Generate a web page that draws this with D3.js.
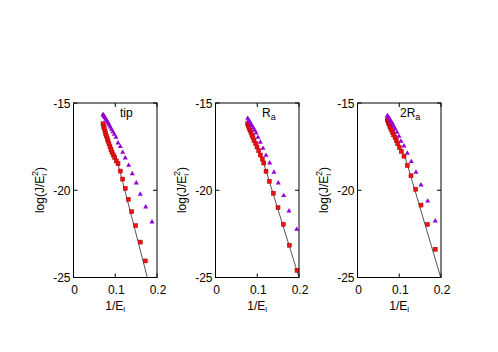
<!DOCTYPE html>
<html>
<head>
<meta charset="utf-8">
<script src="https://cdn.jsdelivr.net/npm/d3@7"></script>
<style>
  html, body { margin: 0; padding: 0; background: #fff; }
  svg { display: block; font-family: "Liberation Sans", Arial, sans-serif; }
</style>
</head>
<body>
<div id="chart"></div>
<script>
// ---------- data ----------
const panelNames = ["tip", "Ra", "2Ra"];

const tipSqX = [0.0707,0.0723,0.0738,0.0755,0.0771,0.0786,0.0810,0.0826,0.0850,0.0874,0.0898,0.0922,0.0953,0.0987,0.1025,0.1066,0.1121,0.1178,0.1240,0.1312,0.1394,0.1490,0.1600,0.1720];
const tipSqY = [-16.19,-16.34,-16.47,-16.62,-16.76,-16.89,-17.05,-17.18,-17.34,-17.51,-17.68,-17.83,-17.98,-18.11,-18.32,-18.48,-18.90,-19.36,-19.89,-20.52,-21.23,-22.03,-22.97,-24.05];
const tipTrX = [0.0707,0.0723,0.0738,0.0755,0.0771,0.0790,0.0810,0.0831,0.0855,0.0881,0.0910,0.0941,0.0977,0.1018,0.1066,0.1121,0.1178,0.1240,0.1322,0.1407,0.1504,0.1600,0.1729,0.1880];
const tipTrY = [-15.66,-15.72,-15.77,-15.84,-15.92,-15.99,-16.07,-16.16,-16.26,-16.38,-16.51,-16.65,-16.80,-16.97,-17.29,-17.50,-17.83,-18.15,-18.57,-19.05,-19.58,-20.23,-20.96,-21.82];
const tipFitX = [0.0707, 0.1042, 0.1768];
const tipFitY = [-16.19, -18.27, -25.0];

const raSqX = [0.0771,0.0786,0.0802,0.0826,0.0850,0.0874,0.0898,0.0922,0.0963,0.0994,0.1035,0.1073,0.1121,0.1157,0.1210,0.1289,0.1384,0.1497,0.1624,0.1768,0.1952];
const raSqY = [-16.19,-16.30,-16.43,-16.56,-16.70,-16.85,-16.99,-17.14,-17.31,-17.52,-17.73,-17.98,-18.21,-18.44,-18.91,-19.49,-20.17,-21.00,-21.95,-23.15,-24.59];
const raTrX = [0.0771,0.0795,0.0819,0.0843,0.0874,0.0905,0.0939,0.0970,0.1018,0.1073,0.1138,0.1210,0.1298,0.1401,0.1504,0.1634,0.1760,0.1945];
const raTrY = [-15.88,-15.97,-16.07,-16.19,-16.30,-16.43,-16.56,-16.72,-16.97,-17.25,-17.60,-18.00,-18.44,-18.97,-19.58,-20.31,-21.19,-22.24];
const raFitX = [0.0771, 0.1131, 0.2000];
const raFitY = [-16.19, -18.27, -24.99];

const ra2SqX = [0.0714,0.0731,0.0747,0.0762,0.0778,0.0795,0.0819,0.0843,0.0867,0.0898,0.0929,0.0963,0.1001,0.1049,0.1114,0.1193,0.1281,0.1394,0.1521,0.1672,0.1863];
const ra2SqY = [-15.96,-16.05,-16.15,-16.24,-16.34,-16.43,-16.55,-16.68,-16.82,-16.97,-17.14,-17.33,-17.54,-17.77,-18.05,-18.58,-19.17,-19.94,-20.85,-21.96,-23.38];
const ra2TrX = [0.0714,0.0738,0.0762,0.0786,0.0810,0.0844,0.0867,0.0905,0.0946,0.0994,0.1042,0.1114,0.1193,0.1289,0.1401,0.1521,0.1681,0.1863];
const ra2TrY = [-15.73,-15.80,-15.90,-15.99,-16.09,-16.20,-16.34,-16.49,-16.68,-16.91,-17.19,-17.46,-17.88,-18.36,-18.97,-19.70,-20.62,-21.76];
const ra2FitX = [0.0714, 0.1162, 0.1993];
const ra2FitY = [-15.96, -18.27, -25.0];

const xTicks = [0, 0.1, 0.2];
const yTicks = [-15, -20, -25];

const zip = (xs, ys) => xs.map((x, i) => ({ x, y: ys[i] }));
const panels = [
  { name: panelNames[0], sq: zip(tipSqX, tipSqY), tr: zip(tipTrX, tipTrY), fit: zip(tipFitX, tipFitY) },
  { name: panelNames[1], sq: zip(raSqX, raSqY), tr: zip(raTrX, raTrY), fit: zip(raFitX, raFitY) },
  { name: panelNames[2], sq: zip(ra2SqX, ra2SqY), tr: zip(ra2TrX, ra2TrY), fit: zip(ra2FitX, ra2FitY) }
];

// ---------- layout ----------
const W = 498, H = 352;
const pw = 83.5, ph = 174.5, plotTop = 103;
const lefts = [73.5, 215.5, 357.5];

const svg = d3.select("#chart").append("svg")
  .attr("width", W).attr("height", H);

panels.forEach((p, i) => {
  const x = d3.scaleLinear().domain([0, 0.2]).range([0, pw]);
  const y = d3.scaleLinear().domain([-25, -15]).range([ph, 0]);

  const g = svg.append("g").attr("transform", `translate(${lefts[i]},${plotTop})`);

  g.append("clipPath").attr("id", "clip" + i)
    .append("rect").attr("width", pw).attr("height", ph);

  // ticks (inward, mirrored)
  const tk = g.append("g").attr("stroke", "#000").attr("stroke-width", 1);
  xTicks.forEach(t => {
    tk.append("line").attr("x1", x(t)).attr("x2", x(t)).attr("y1", ph).attr("y2", ph - 4);
    tk.append("line").attr("x1", x(t)).attr("x2", x(t)).attr("y1", 0).attr("y2", 4);
  });
  yTicks.forEach(t => {
    tk.append("line").attr("x1", 0).attr("x2", 4).attr("y1", y(t)).attr("y2", y(t));
    tk.append("line").attr("x1", pw).attr("x2", pw - 4).attr("y1", y(t)).attr("y2", y(t));
  });

  // tick labels
  g.append("g").selectAll("text").data(xTicks).enter().append("text")
    .attr("x", d => x(d) + 1).attr("y", ph + 16)
    .attr("text-anchor", "middle").attr("font-size", 12)
    .text(d => d3.format("")(d));
  g.append("g").selectAll("text").data(yTicks).enter().append("text")
    .attr("x", -3).attr("y", d => y(d) + 4.5)
    .attr("text-anchor", "end").attr("font-size", 12)
    .text(d => d);

  // fit line
  g.append("path").datum(p.fit)
    .attr("clip-path", `url(#clip${i})`)
    .attr("fill", "none").attr("stroke", "#555").attr("stroke-width", 1)
    .attr("d", d3.line().x(d => x(d.x)).y(d => y(d.y)));

  // squares
  g.append("g").attr("fill", "#ee1111").attr("stroke", "#aa0000").attr("stroke-width", 0.5)
    .selectAll("rect").data(p.sq).enter().append("rect")
      .attr("x", d => x(d.x) - 2).attr("y", d => y(d.y) - 2)
      .attr("width", 4).attr("height", 4);

  // triangles
  const tri = d3.symbol().type(d3.symbolTriangle).size(11);
  g.append("g").attr("fill", "#9400d3")
    .selectAll("path").data(p.tr).enter().append("path")
      .attr("transform", d => `translate(${x(d.x)},${y(d.y)})`)
      .attr("d", tri);

  // frame
  g.append("rect").attr("width", pw).attr("height", ph)
    .attr("fill", "none").attr("stroke", "#000").attr("stroke-width", 1);

  // panel label
  const lab = g.append("text").attr("font-size", 12).attr("y", 14);
  if (i === 0) {
    lab.attr("x", 46.5).text("tip");
  } else {
    lab.attr("x", i === 1 ? 46.5 : 42.5);
    lab.append("tspan").text(i === 1 ? "R" : "2R");
    lab.append("tspan").attr("font-size", 9).attr("dy", 3).text("a");
  }

  // y label
  const yl = svg.append("text")
    .attr("transform", `translate(${43.5 + 142 * i},${190}) rotate(-90)`)
    .attr("text-anchor", "middle").attr("font-size", 12);
  yl.append("tspan").text("log(J/E");
  yl.append("tspan").attr("font-size", 8).attr("dy", 3).text("l");
  yl.append("tspan").attr("font-size", 9).attr("dy", -9).attr("dx", -2).text("2");
  yl.append("tspan").attr("dy", 6).text(")");

  // x label
  const xl = svg.append("text")
    .attr("x", lefts[i] + pw / 2).attr("y", 310)
    .attr("text-anchor", "middle").attr("font-size", 12);
  xl.append("tspan").text("1/E");
  xl.append("tspan").attr("font-size", 8).attr("dy", 2).text("l");
});
</script>
</body>
</html>
